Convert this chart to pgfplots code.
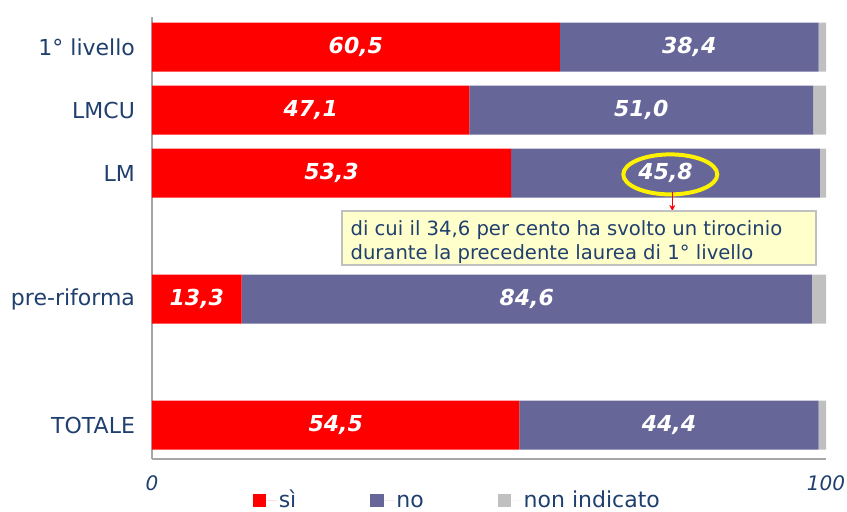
\documentclass[border=0pt]{standalone}
\usepackage{fontspec}
\setmainfont{DejaVu Sans}
\usepackage{pgfplots}
\pgfplotsset{compat=1.18}
\usetikzlibrary{arrows.meta}
\definecolor{cSi}{HTML}{FF0000}
\definecolor{cNo}{HTML}{666699}
\definecolor{cNi}{HTML}{C0C0C0}
\definecolor{dblue}{HTML}{1F3F6E}
\definecolor{boxy}{HTML}{FFFFCC}
\definecolor{axgray}{HTML}{A6A6A6}
\tikzset{lbl/.style={text=white, font=\fontsize{11}{13}\selectfont\bfseries\itshape}}
\begin{document}
\begin{tikzpicture}
\path[use as bounding box] (0pt,0pt) rectangle (423.5pt,255.5pt);
\begin{axis}[
  at={(76pt,26pt)}, anchor=south west,
  scale only axis, width=337pt, height=221pt,
  xbar stacked, bar width=24.5pt,
  y dir=reverse,
  xmin=0, xmax=100, ymin=-0.48, ymax=6.54,
  ytick={0,1,2,4,6},
  yticklabels={1° livello, LMCU, LM, pre-riforma, TOTALE},
  xtick={0,100},
  xticklabels={0,100},
  axis x line*=bottom, axis y line*=left,
  axis line style={draw=axgray, line width=1.2pt},
  major tick length=0pt,
  yticklabel style={font=\fontsize{11}{13}\selectfont, text=dblue, xshift=-5pt},
  xticklabel style={font=\fontsize{10}{12}\selectfont\itshape, text=dblue, yshift=-5pt},
  legend style={draw=none, fill=none, at={(0.453,-0.093)}, anchor=center,
    legend columns=3, font=\fontsize{11}{13}\selectfont, text=dblue,
    nodes={text height=1.6ex, text depth=0.3ex, inner sep=1pt},
    /tikz/every even column/.append style={column sep=36pt}},
  legend image code/.code={\path (0pt,0pt) -- (12pt,0pt);\draw[#1, draw=none] (0pt,-3.3pt) rectangle (6.6pt,3.3pt);},
  clip=false,
]
\addplot[fill=cSi, draw=none] coordinates {(60.5,0) (47.1,1) (53.3,2) (13.3,4) (54.5,6)};
\addplot[fill=cNo, draw=none] coordinates {(38.4,0) (51.0,1) (45.8,2) (84.6,4) (44.4,6)};
\addplot[fill=cNi, draw=none] coordinates {(1.1,0) (1.9,1) (0.9,2) (2.1,4) (1.1,6)};
\legend{sì, no, non indicato}
\coordinate (l1) at (axis cs:30.25,0);
\coordinate (l2) at (axis cs:79.7,0);
\coordinate (l3) at (axis cs:23.55,1);
\coordinate (l4) at (axis cs:72.6,1);
\coordinate (l5) at (axis cs:26.65,2);
\coordinate (l6) at (axis cs:76.2,2);
\coordinate (l7) at (axis cs:6.65,4);
\coordinate (l8) at (axis cs:55.6,4);
\coordinate (l9) at (axis cs:27.25,6);
\coordinate (l10) at (axis cs:76.7,6);
\coordinate (ell) at (axis cs:76.9,2.02);
\coordinate (a1) at (axis cs:77.2,2.30);
\coordinate (a2) at (axis cs:77.2,2.60);
\coordinate (b1) at (axis cs:28.2,2.60);
\coordinate (b2) at (axis cs:98.5,3.46);
\coordinate (bt) at (axis cs:29.4,3.09);
\end{axis}
\node[lbl] at (l1) {60,5};
\node[lbl] at (l2) {38,4};
\node[lbl] at (l3) {47,1};
\node[lbl] at (l4) {51,0};
\node[lbl] at (l5) {53,3};
\node[lbl] at (l6) {45,8};
\node[lbl] at (l7) {13,3};
\node[lbl] at (l8) {84,6};
\node[lbl] at (l9) {54,5};
\node[lbl] at (l10) {44,4};
\draw[yellow, line width=2pt] (ell) ellipse (23.5pt and 10pt);
\draw[red, line width=0.6pt, -{Stealth[length=3pt,width=3pt]}] (a1) -- (a2);
\draw[fill=boxy, draw=cNi, line width=0.8pt] (b1) rectangle (b2);
\node[anchor=west, align=left, text=dblue, font=\fontsize{9.8}{12}\selectfont, inner sep=0pt] at (bt)
  {di cui il 34,6 per cento ha svolto un tirocinio\\durante la precedente laurea di 1° livello};
\end{tikzpicture}
\end{document}
